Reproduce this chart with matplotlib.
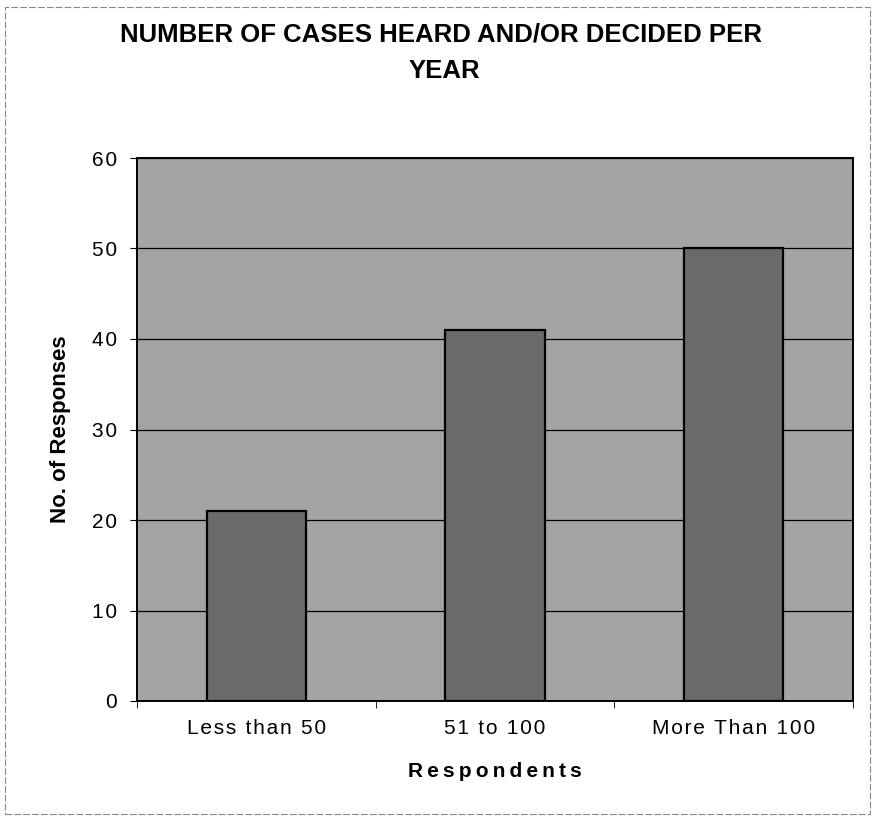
import matplotlib.pyplot as plt
import matplotlib.patches as mpatches

# 数据
categories = ['Less than 50', '51 to 100', 'More Than 100']
responses = [21, 41, 50]
y_ticks = [0, 10, 20, 30, 40, 50, 60]

HAIR = '\u200a'
THIN = '\u2009'


def spaced(s, sep):
    # 模拟原图里字符之间的额外间距
    return sep.join(s)


plt.rcParams['font.family'] = ['Liberation Sans', 'DejaVu Sans']

W, H = 873, 818
fig = plt.figure(figsize=(W / 100, H / 100), dpi=100)
fig.patch.set_facecolor('white')

# 外框
fig.patches.append(mpatches.Rectangle((5 / W, 1 - 814 / H), 865 / W, 807 / H, transform=fig.transFigure,
                                      fill=False, edgecolor='#888888', linewidth=0.8, linestyle=(0, (6, 2))))

ax = fig.add_axes([137 / W, 1 - 701 / H, 716 / W, 543 / H])
ax.set_facecolor('#a4a4a4')

x = list(range(len(categories)))
ax.bar(x, responses, width=0.415, color='#6a6a6a', edgecolor='black', linewidth=1.6, zorder=3)

ax.set_xlim(-0.5, len(categories) - 0.5)
ax.set_ylim(0, 60)
ax.set_yticks(y_ticks)
ax.set_yticklabels([spaced(str(v), HAIR) for v in y_ticks], fontsize=15)
ax.yaxis.grid(True, color='black', linewidth=0.9, zorder=1)
ax.set_axisbelow(True)

# 横轴：分类边界处的刻度线
ax.set_xticks(x)
ax.set_xticklabels([spaced(c, HAIR) for c in categories], fontsize=15)
ax.tick_params(axis='x', which='major', length=0, pad=13)
ax.set_xticks([-0.5, 0.5, 1.5, 2.5], minor=True)
ax.tick_params(axis='x', which='minor', length=5, color='black')
ax.tick_params(axis='y', length=5, pad=9.5)

for sp in ax.spines.values():
    sp.set_linewidth(1.4)
    sp.set_color('black')

ax.set_xlabel(spaced('Respondents', THIN), fontsize=15, weight='bold', labelpad=17)
ax.set_ylabel('No. of Responses', fontsize=16, weight='bold', labelpad=15)

fig.text(441 / W, 1 - 35 / H, 'NUMBER OF CASES HEARD AND/OR DECIDED PER', ha='center', va='center',
         fontsize=18.5, weight='bold')
fig.text(444 / W, 1 - 71 / H, 'YEAR', ha='center', va='center', fontsize=18.5, weight='bold')

plt.savefig('out.png', dpi=100)
